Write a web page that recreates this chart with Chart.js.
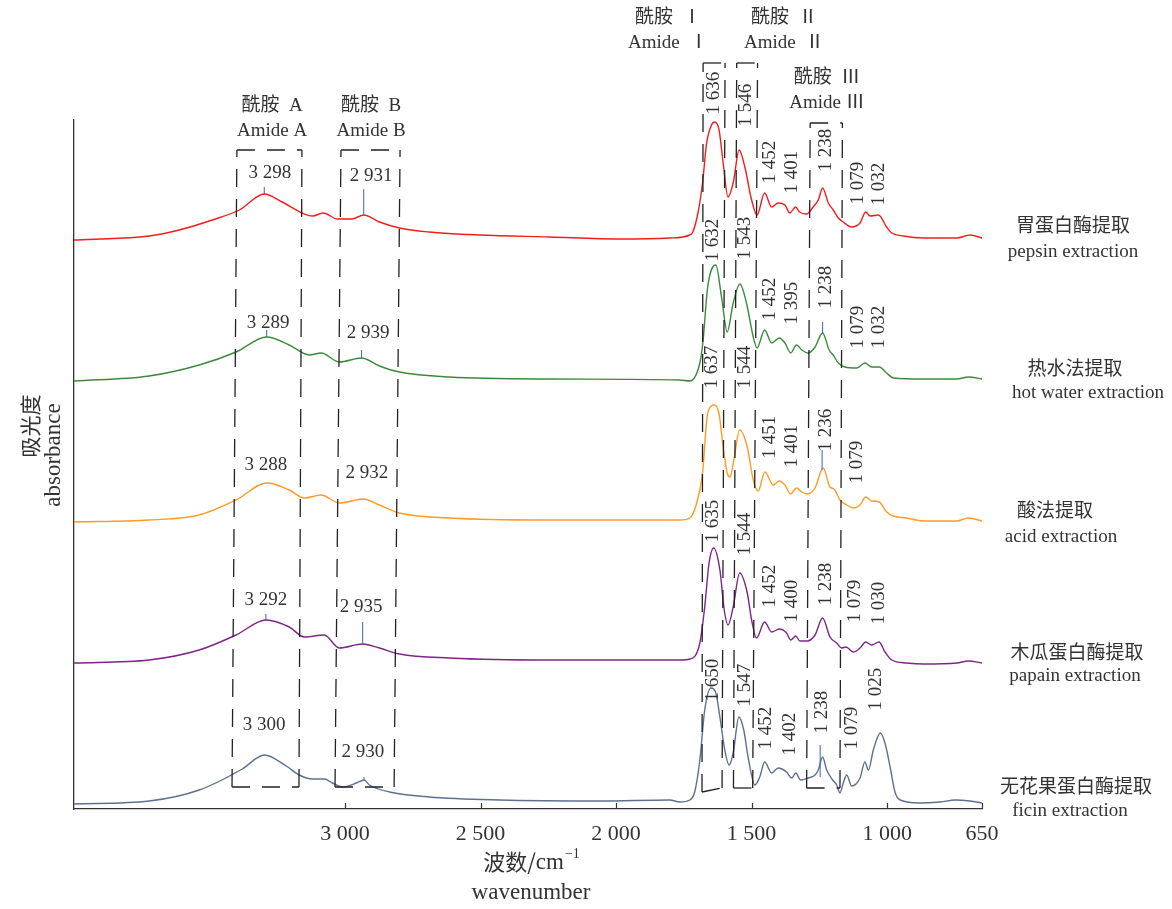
<!DOCTYPE html>
<html>
<head>
<meta charset="utf-8">
<title>FTIR spectra</title>
<script src="https://cdn.jsdelivr.net/npm/chart.js@4.4.1/dist/chart.umd.min.js"></script>
<style>
  html, body { margin: 0; padding: 0; background: #fff; }
  #wrap { width: 1172px; height: 909px; }
</style>
</head>
<body>
<div id="wrap"><canvas id="ftir" width="1172" height="909"></canvas></div>
<script>
// x 刻度 (波数, cm-1)
const xTicks = [3000, 2500, 2000, 1500, 1000, 650];

// 各提取方法的光谱 [波数, 吸光度(含纵向偏移)]
const pepsin = [[4000,5.69],[3908,5.70],[3723,5.73],[3612,5.79],[3490,5.89],[3390,5.99],[3298,6.15],[3232,6.07],[3158,5.96],[3120,5.93],[3080,5.96],[3028,5.90],[2975,5.90],[2931,5.94],[2873,5.87],[2799,5.81],[2689,5.77],[2504,5.74],[2245,5.72],[1987,5.70],[1800,5.71],[1728,5.74],[1717,5.77],[1698,5.96],[1681,6.26],[1666,6.66],[1648,6.84],[1636,6.87],[1620,6.79],[1605,6.46],[1587,6.12],[1568,6.26],[1546,6.59],[1525,6.42],[1500,6.09],[1480,5.94],[1452,6.16],[1426,6.02],[1402,6.06],[1377,6.04],[1359,5.96],[1338,6.02],[1323,5.97],[1297,5.95],[1273,6.02],[1254,6.09],[1238,6.21],[1217,6.06],[1199,5.99],[1180,5.91],[1162,5.87],[1131,5.82],[1100,5.86],[1079,5.97],[1063,5.93],[1032,5.94],[1002,5.82],[983,5.76],[940,5.73],[866,5.71],[743,5.71],[694,5.74],[650,5.71]];
const hotWater = [[4000,4.28],[3723,4.33],[3538,4.44],[3402,4.57],[3289,4.72],[3206,4.64],[3132,4.54],[3088,4.56],[3021,4.47],[2939,4.51],[2873,4.43],[2799,4.37],[2615,4.32],[2245,4.30],[1765,4.29],[1728,4.28],[1691,4.46],[1680,4.66],[1662,5.22],[1632,5.44],[1611,5.12],[1590,4.77],[1568,5.06],[1543,5.25],[1519,5.06],[1494,4.72],[1480,4.61],[1452,4.79],[1426,4.66],[1398,4.71],[1377,4.66],[1356,4.56],[1334,4.64],[1315,4.59],[1291,4.56],[1266,4.62],[1238,4.76],[1214,4.59],[1199,4.54],[1180,4.46],[1156,4.42],[1112,4.41],[1082,4.46],[1057,4.42],[1029,4.42],[1002,4.36],[977,4.31],[866,4.30],[743,4.30],[700,4.32],[650,4.30]];
const acid = [[4000,2.87],[3723,2.89],[3538,2.94],[3402,3.09],[3288,3.26],[3206,3.19],[3150,3.11],[3088,3.14],[3021,3.06],[2932,3.10],[2873,3.04],[2799,2.96],[2615,2.91],[2245,2.89],[1765,2.89],[1728,2.91],[1691,3.19],[1680,3.39],[1662,3.96],[1637,4.04],[1620,3.95],[1605,3.62],[1590,3.36],[1580,3.32],[1568,3.45],[1544,3.79],[1516,3.62],[1494,3.29],[1476,3.18],[1451,3.37],[1420,3.24],[1398,3.28],[1377,3.24],[1356,3.15],[1334,3.21],[1315,3.17],[1295,3.15],[1266,3.21],[1236,3.41],[1211,3.22],[1196,3.20],[1174,3.09],[1149,3.04],[1125,3.01],[1100,3.04],[1079,3.12],[1057,3.08],[1029,3.07],[1002,2.97],[977,2.93],[928,2.91],[866,2.88],[743,2.88],[700,2.91],[650,2.88]];
const papain = [[4000,1.46],[3723,1.49],[3538,1.59],[3402,1.74],[3292,1.89],[3206,1.82],[3150,1.72],[3077,1.74],[3021,1.61],[2935,1.65],[2873,1.61],[2799,1.55],[2615,1.51],[2245,1.49],[1765,1.49],[1728,1.50],[1691,1.66],[1673,2.02],[1657,2.46],[1640,2.61],[1617,2.39],[1601,1.99],[1587,1.84],[1568,2.02],[1544,2.36],[1516,2.16],[1500,1.89],[1482,1.71],[1452,1.87],[1426,1.77],[1398,1.80],[1371,1.76],[1356,1.69],[1337,1.73],[1322,1.68],[1295,1.68],[1266,1.74],[1238,1.91],[1211,1.72],[1186,1.66],[1168,1.61],[1152,1.62],[1125,1.57],[1100,1.61],[1079,1.67],[1057,1.64],[1030,1.67],[1008,1.57],[983,1.49],[928,1.46],[866,1.45],[743,1.46],[700,1.48],[650,1.46]];
const ficin = [[4000,0.05],[3723,0.08],[3538,0.19],[3379,0.40],[3298,0.54],[3217,0.43],[3169,0.34],[3121,0.30],[3076,0.30],[3047,0.26],[3010,0.22],[2958,0.26],[2930,0.29],[2910,0.24],[2836,0.17],[2689,0.12],[2430,0.09],[2061,0.08],[1802,0.09],[1765,0.07],[1728,0.09],[1710,0.17],[1691,0.49],[1673,0.99],[1650,1.21],[1632,1.16],[1617,0.92],[1599,0.59],[1583,0.44],[1568,0.56],[1547,0.92],[1529,0.79],[1513,0.52],[1488,0.24],[1470,0.32],[1452,0.47],[1426,0.36],[1402,0.41],[1371,0.37],[1352,0.31],[1337,0.36],[1319,0.29],[1291,0.31],[1266,0.34],[1254,0.39],[1238,0.52],[1223,0.39],[1201,0.29],[1186,0.24],[1174,0.16],[1162,0.26],[1149,0.34],[1131,0.23],[1100,0.31],[1082,0.47],[1069,0.39],[1051,0.59],[1025,0.76],[1008,0.66],[989,0.42],[971,0.17],[952,0.09],[878,0.06],[805,0.07],[749,0.09],[694,0.08],[650,0.06]];

const seriesCn = ['胃蛋白酶提取', '热水法提取', '酸法提取', '木瓜蛋白酶提取', '无花果蛋白酶提取'];
const seriesEn = ['pepsin extraction', 'hot water extraction', 'acid extraction', 'papain extraction', 'ficin extraction'];
const seriesColors = ['#f21d1d', '#3b8a3b', '#ff9b26', '#7f2587', '#5d7090'];

// 峰位标注: [峰值, 标注处波数, 标注处吸光度, 竖排?]
const peakLabels = [
  [3298, 3277, 6.36, false], [2931, 2904, 6.33, false],
  [1636, 1639, 7.16, true], [1546, 1521, 7.04, true], [1452, 1432, 6.47, true], [1401, 1351, 6.37, true],
  [1238, 1225, 6.59, true], [1079, 1107, 6.26, true], [1032, 1030, 6.25, true],
  [3289, 3284, 4.86, false], [2939, 2915, 4.76, false],
  [1632, 1642, 5.69, true], [1543, 1524, 5.71, true], [1452, 1432, 5.10, true], [1395, 1351, 5.06, true],
  [1238, 1225, 5.22, true], [1079, 1107, 4.82, true], [1032, 1030, 4.82, true],
  [3288, 3292, 3.44, false], [2932, 2919, 3.36, false],
  [1637, 1646, 4.42, true], [1544, 1524, 4.42, true], [1451, 1432, 3.72, true], [1401, 1351, 3.63, true],
  [1236, 1225, 3.79, true], [1079, 1111, 3.47, true],
  [3292, 3292, 2.09, false], [2935, 2941, 2.02, false],
  [1635, 1642, 2.88, true], [1544, 1524, 2.75, true], [1452, 1432, 2.23, true], [1400, 1351, 2.08, true],
  [1238, 1225, 2.25, true], [1079, 1118, 2.08, true], [1030, 1030, 2.06, true],
  [3300, 3299, 0.84, false], [2930, 2934, 0.57, false],
  [1650, 1642, 1.29, true], [1547, 1524, 1.24, true], [1452, 1447, 0.81, true], [1402, 1358, 0.75, true],
  [1238, 1240, 0.97, true], [1079, 1130, 0.81, true], [1025, 1041, 1.20, true]
];

// 峰位引线 [波数, 吸光度起, 吸光度止]
const peakTicks = [[3298, 6.15, 6.22], [2931, 5.94, 6.20], [3289, 4.72, 4.79], [2939, 4.51, 4.59],
  [1238, 4.76, 4.87], [1240, 3.39, 3.59], [3292, 1.89, 1.95], [2935, 1.64, 1.87], [2930, 0.29, 0.32], [1247, 0.32, 0.64]];

// 酰胺带虚线框: 左上, 右上, 右下, 左下 [波数, 吸光度]
const amideBoxes = [
  [[3399, 6.59], [3159, 6.59], [3170, 0.22], [3417, 0.22]],
  [[3015, 6.59], [2797, 6.59], [2819, 0.22], [3037, 0.22]],
  [[1679, 7.46], [1598, 7.46], [1609, 0.21], [1683, 0.17]],
  [[1555, 7.46], [1478, 7.46], [1496, 0.21], [1567, 0.21]],
  [[1284, 6.86], [1165, 6.86], [1174, 0.21], [1297, 0.21]]
];
// 酰胺带名称 [中文, 英文, 波数, 吸光度(第一行)]
const amideNames = [
  ['酰胺  A', 'Amide A', 3269, 7.03],
  ['酰胺  B', 'Amide B', 2904, 7.03],
  ['酰胺  Ⅰ', 'Amide  Ⅰ', 1808, 7.91],
  ['酰胺  Ⅱ', 'Amide  Ⅱ', 1380, 7.91],
  ['酰胺  Ⅲ', 'Amide Ⅲ', 1222, 7.31]
];
// 右侧名称纵向位置 [中文行, 英文行] 及水平偏移
const nameRowsA = [[5.84, 5.57], [4.41, 4.16], [2.99, 2.72], [1.57, 1.33], [0.23, -0.02]];
const nameOffsets = [[91, 91], [93, 106], [73, 79], [95, 93], [94, 88]];

const SERIF = '"Liberation Serif", "Times New Roman", "Noto Sans CJK SC", serif';
const CJK = '"Noto Sans CJK SC", "Noto Sans", sans-serif';
const INK = '#333';

function fmtNum(n) {
  return String(n).replace(/\B(?=(\d{3})+(?!\d))/g, ' ');
}

function drawText(ctx, s, px, py, font, vertical) {
  ctx.save();
  ctx.translate(px, py);
  if (vertical) ctx.rotate(-Math.PI / 2);
  ctx.font = font;
  ctx.fillStyle = INK;
  ctx.textAlign = 'center';
  ctx.textBaseline = 'middle';
  ctx.fillText(s, 0, 0);
  ctx.restore();
}

function dashedLine(ctx, x1, y1, x2, y2) {
  ctx.beginPath();
  ctx.moveTo(x1, y1);
  ctx.lineTo(x2, y2);
  ctx.stroke();
}

const decorPlugin = {
  id: 'decor',
  afterDraw(chart) {
    const {ctx, chartArea} = chart;
    const xs = chart.scales.x, ys = chart.scales.y;
    const X = w => xs.getPixelForValue(w);
    const Y = a => ys.getPixelForValue(a);
    ctx.save();

    // 刻度线 (朝内)
    ctx.strokeStyle = INK;
    ctx.lineWidth = 1.2;
    xTicks.forEach(v => {
      const px = Math.round(X(v)) + 0.5;
      ctx.beginPath();
      ctx.moveTo(px, chartArea.bottom);
      ctx.lineTo(px, chartArea.bottom - 6);
      ctx.stroke();
    });

    // 虚线框
    ctx.strokeStyle = '#222';
    ctx.lineWidth = 1.3;
    ctx.setLineDash([18, 12]);
    amideBoxes.forEach(b => {
      const p = b.map(c => [X(c[0]), Y(c[1])]);
      dashedLine(ctx, p[3][0], p[3][1], p[0][0], p[0][1]);   // 左
      dashedLine(ctx, p[2][0], p[2][1], p[1][0], p[1][1]);   // 右
      dashedLine(ctx, p[0][0], p[0][1], p[1][0], p[1][1]);   // 上
      dashedLine(ctx, p[3][0], p[3][1], p[2][0], p[2][1]);   // 下
    });
    ctx.setLineDash([]);

    // 峰位引线
    ctx.strokeStyle = '#3a62c4';
    ctx.lineWidth = 1;
    peakTicks.forEach(t => dashedLine(ctx, X(t[0]), Y(t[1]), X(t[0]), Y(t[2])));

    // 峰位数字
    peakLabels.forEach(l => drawText(ctx, fmtNum(l[0]), X(l[1]), Y(l[2]), '19px ' + SERIF, l[3]));

    // 酰胺带名称
    amideNames.forEach(n => {
      drawText(ctx, n[0], X(n[2]), Y(n[3]), '19px ' + SERIF, false);
      drawText(ctx, n[1], X(n[2]), Y(n[3]) + 25, '19px ' + SERIF, false);
    });

    // 右侧样品名称
    seriesCn.forEach((s, i) => {
      drawText(ctx, s, chartArea.right + nameOffsets[i][0], Y(nameRowsA[i][0]), '19px ' + CJK, false);
      drawText(ctx, seriesEn[i], chartArea.right + nameOffsets[i][1], Y(nameRowsA[i][1]), '19px ' + SERIF, false);
    });

    // 坐标轴标题
    drawText(ctx, '吸光度', 30, 426, '21px ' + CJK, true);
    drawText(ctx, 'absorbance', 54, 455, '23px ' + SERIF, true);

    ctx.font = '22px ' + CJK;
    const partA = '波数/';
    ctx.font = '23px ' + SERIF;
    const wCm = ctx.measureText('cm').width;
    ctx.font = '22px ' + CJK;
    const wA = ctx.measureText(partA).width;
    ctx.font = '14px ' + SERIF;
    const wSup = ctx.measureText('−1').width;
    const cx = 531, ty = 862;
    let sx = cx - (wA + wCm + wSup) / 2;
    ctx.fillStyle = INK;
    ctx.textBaseline = 'middle';
    ctx.textAlign = 'left';
    ctx.font = '22px ' + CJK;
    ctx.fillText(partA, sx, ty);
    ctx.font = '23px ' + SERIF;
    ctx.fillText('cm', sx + wA, ty + 1);
    ctx.font = '14px ' + SERIF;
    ctx.fillText('−1', sx + wA + wCm + 1, ty - 8);
    drawText(ctx, 'wavenumber', 531, 893, '23px ' + SERIF, false);

    ctx.restore();
  }
};

const datasets = [pepsin, hotWater, acid, papain, ficin].map((s, i) => ({
  label: seriesEn[i],
  data: s.map(p => ({x: p[0], y: p[1]})),
  borderColor: seriesColors[i],
  borderWidth: 1.4,
  pointRadius: 0,
  cubicInterpolationMode: 'monotone',
  fill: false
}));

new Chart(document.getElementById('ftir'), {
  type: 'line',
  data: {datasets},
  plugins: [decorPlugin],
  options: {
    responsive: false,
    devicePixelRatio: 1,
    animation: false,
    layout: {padding: {top: 120, right: 190, bottom: 0, left: 0}},
    plugins: {legend: {display: false}, tooltip: {enabled: false}},
    scales: {
      x: {
        type: 'linear',
        reverse: true,
        min: 650,
        max: 4000,
        afterBuildTicks: s => { s.ticks = xTicks.map(v => ({value: v})); },
        afterFit: s => { s.height = 100; },
        grid: {display: false, drawTicks: false},
        border: {display: true, color: INK, width: 1.3},
        ticks: {
          autoSkip: false,
          maxRotation: 0,
          padding: 12,
          color: INK,
          font: {family: SERIF, size: 22},
          callback: v => fmtNum(v)
        }
      },
      y: {
        min: 0,
        max: 6.89,
        afterFit: s => { s.width = 74; },
        grid: {display: false, drawTicks: false},
        border: {display: true, color: INK, width: 1.3},
        ticks: {display: false}
      }
    }
  }
});
</script>
</body>
</html>
